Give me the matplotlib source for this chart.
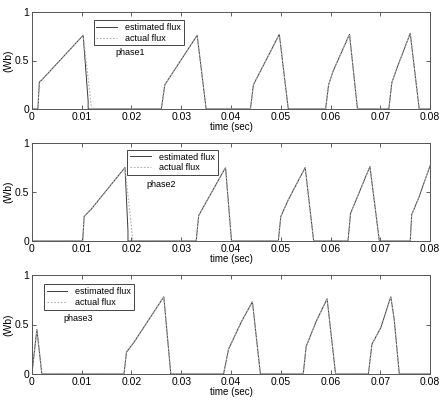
import numpy as np
import matplotlib
matplotlib.use('Agg')
import matplotlib.pyplot as plt

plt.rcParams['font.family'] = ['Liberation Sans', 'DejaVu Sans']

# ----------------------------------------------------------------------------
# Data (time in s, flux in Wb)
# ----------------------------------------------------------------------------
t_act1 = [0, 0.0012, 0.0015, 0.002, 0.0103, 0.012, 0.026, 0.0267, 0.0332, 0.035,
          0.0439, 0.0445, 0.046, 0.0497, 0.0515, 0.059, 0.0596, 0.0605, 0.0638,
          0.0654, 0.0717, 0.0723, 0.0731, 0.076, 0.0778, 0.08]
v_act1 = [0, 0, 0.28, 0.30, 0.76, 0, 0, 0.25, 0.76, 0,
          0, 0.25, 0.40, 0.77, 0, 0, 0.25, 0.39, 0.77,
          0, 0, 0.27, 0.39, 0.78, 0, 0]
t_est1 = [0, 0.0012, 0.0015, 0.002, 0.0103, 0.0113, 0.0113, 0.026, 0.0267, 0.0332,
          0.035, 0.0439, 0.0445, 0.046, 0.0497, 0.0515, 0.059, 0.0596, 0.0605,
          0.0638, 0.0654, 0.0717, 0.0723, 0.0731, 0.076, 0.0778, 0.08]
v_est1 = [0, 0, 0.28, 0.30, 0.76, 0.08, 0, 0, 0.25, 0.76,
          0, 0, 0.25, 0.40, 0.77, 0, 0, 0.25, 0.39,
          0.77, 0, 0, 0.27, 0.39, 0.78, 0, 0]

t_act2 = [0, 0.0102, 0.0105, 0.012, 0.0187, 0.0203, 0.033, 0.0335, 0.0389, 0.0401,
          0.0495, 0.050, 0.0515, 0.0549, 0.0566, 0.0635, 0.064, 0.0653, 0.0679,
          0.0698, 0.076, 0.0763, 0.0777, 0.08]
v_act2 = [0, 0, 0.25, 0.33, 0.75, 0, 0, 0.26, 0.75, 0,
          0, 0.25, 0.42, 0.75, 0, 0, 0.28, 0.44, 0.76,
          0, 0, 0.27, 0.44, 0.77]
t_est2 = [0, 0.0102, 0.0105, 0.012, 0.0187, 0.0193, 0.0193, 0.033, 0.0335, 0.0389,
          0.0401, 0.0495, 0.050, 0.0515, 0.0549, 0.0566, 0.0635, 0.064, 0.0653,
          0.0679, 0.0698, 0.076, 0.0763, 0.0777, 0.08]
v_est2 = [0, 0, 0.25, 0.33, 0.75, 0.10, 0, 0, 0.26, 0.75,
          0, 0, 0.25, 0.42, 0.75, 0, 0, 0.28, 0.44,
          0.76, 0, 0, 0.27, 0.44, 0.77]

t_act3 = [0, 0.001, 0.002, 0.0185, 0.019, 0.0205, 0.0265, 0.0279, 0.0385, 0.0395,
          0.0421, 0.0443, 0.0459, 0.0545, 0.0551, 0.0571, 0.0593, 0.061, 0.0676,
          0.0683, 0.0701, 0.0721, 0.0728, 0.0738, 0.08]
v_act3 = [0, 0.44, 0, 0, 0.23, 0.32, 0.78, 0, 0, 0.25,
          0.53, 0.73, 0, 0, 0.28, 0.53, 0.76, 0, 0,
          0.30, 0.47, 0.78, 0.54, 0, 0]
t_est3 = t_act3
v_est3 = [0, 0.45, 0, 0, 0.22, 0.32, 0.78, 0, 0, 0.25,
          0.53, 0.73, 0, 0, 0.28, 0.53, 0.76, 0, 0,
          0.30, 0.47, 0.78, 0.54, 0, 0]

phases = ['phase1', 'phase2', 'phase3']
xticks = [0, 0.01, 0.02, 0.03, 0.04, 0.05, 0.06, 0.07, 0.08]
xticklabels = ['0', '0.01', '0.02', '0.03', '0.04', '0.05', '0.06', '0.07', '0.08']
yticks = [0, 0.5, 1]
yticklabels = ['0', '0.5', '1']

series = [(t_est1, v_est1, t_act1, v_act1),
          (t_est2, v_est2, t_act2, v_act2),
          (t_est3, v_est3, t_act3, v_act3)]

# axes boxes [left, bottom, width, height] in figure fraction
boxes = [[0.072, 0.7275, 0.899, 0.2425],
         [0.072, 0.3975, 0.899, 0.2450],
         [0.072, 0.0650, 0.899, 0.2475]]
# legend upper-left corner (axes fraction) and phase label position
legend_xy = [(0.155, 0.915), (0.240, 0.930), (0.030, 0.905)]
phase_xy = [(0.209, 0.58), (0.288, 0.58), (0.078, 0.56)]

fig = plt.figure(figsize=(4.43, 4.00), dpi=100)
fig.patch.set_facecolor('white')

for i, (te, ve, ta, va) in enumerate(series):
    ax = fig.add_axes(boxes[i])
    ax.plot(te, ve, color='#3a3a3a', lw=0.7, label='estimated flux')
    ax.plot(ta, va, color='#b0b0b0', lw=0.8, ls=(0, (1.5, 1.5)), label='actual flux')
    ax.set_xlim(0, 0.08)
    ax.set_ylim(0, 1)
    ax.set_xticks(xticks)
    ax.set_xticklabels(xticklabels)
    ax.set_yticks(yticks)
    ax.set_yticklabels(yticklabels)
    ax.tick_params(direction='in', top=True, right=True, labelsize=7.5,
                   length=3, width=0.6, color='#444444', pad=2)
    for sp in ax.spines.values():
        sp.set_color('#555555')
        sp.set_linewidth(0.7)
    ax.set_xlabel('time (sec)', fontsize=7, labelpad=0)
    ax.set_ylabel('(Wb)', fontsize=7.5, labelpad=1)
    leg = ax.legend(loc='upper left',
                    bbox_to_anchor=legend_xy[i], fontsize=6.5, frameon=True,
                    fancybox=False, edgecolor='#444444', framealpha=1,
                    handlelength=2.3, borderpad=0.3, labelspacing=0.2,
                    handletextpad=0.9, borderaxespad=0)
    leg.get_frame().set_linewidth(0.7)
    ax.text(phase_xy[i][0], phase_xy[i][1], phases[i], transform=ax.transAxes,
            fontsize=6.5, ha='left', va='center')

fig.savefig('out.png', dpi=100)
